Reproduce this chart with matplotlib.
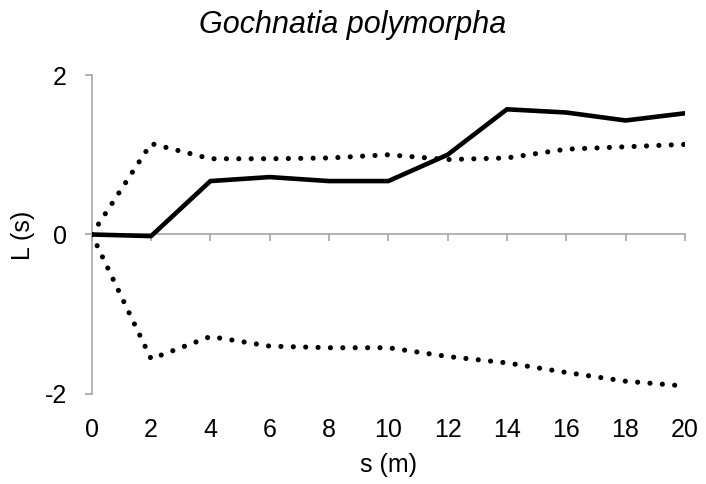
import numpy as np
import matplotlib
matplotlib.use("Agg")
import matplotlib.pyplot as plt

plt.rcParams['font.family'] = ['Liberation Sans', 'DejaVu Sans']
plt.rcParams['axes.unicode_minus'] = False

# distance classes s (m)
s = [0, 2, 4, 6, 8, 10, 12, 14, 16, 18, 20]
# observed L(s)
L_obs = [0.0, -0.02, 0.67, 0.72, 0.67, 0.67, 1.00, 1.57, 1.53, 1.43, 1.52]
# confidence envelope
L_upper = [0.0, 1.14, 0.95, 0.95, 0.96, 1.00, 0.94, 0.96, 1.07, 1.10, 1.13]
L_lower = [0.0, -1.56, -1.28, -1.40, -1.42, -1.42, -1.53, -1.61, -1.73, -1.84, -1.90]

W, H = 706, 484
fig = plt.figure(figsize=(W / 100, H / 100), dpi=100)
ax = fig.add_axes([0.130, 0.186, 0.840, 0.659])

axis_grey = '#a6a6a6'

ax.plot(s, L_upper, color='black', lw=3.7, linestyle=(0, (0.01, 2.4)),
        dash_capstyle='round', zorder=3)
ax.plot(s, L_lower, color='black', lw=3.7, linestyle=(0, (0.01, 2.4)),
        dash_capstyle='round', zorder=3)
ax.plot(s, L_obs, color='black', lw=3.3, solid_joinstyle='miter', zorder=4)

ax.set_xlim(0, 20)
ax.set_ylim(-2, 2)

ax.spines['top'].set_visible(False)
ax.spines['right'].set_visible(False)
ax.spines['bottom'].set_position(('data', 0))
for sp in ('left', 'bottom'):
    ax.spines[sp].set_color(axis_grey)
    ax.spines[sp].set_linewidth(1.2)

ax.set_xticks(range(0, 21, 2))
ax.set_yticks([-2, 0, 2])
ax.tick_params(axis='x', direction='out', length=5, width=1.2, color=axis_grey,
               labelbottom=False)
ax.tick_params(axis='y', direction='out', length=5, width=1.2, color=axis_grey,
               labelsize=18, pad=13)

# tick labels below the plot area
sec = ax.secondary_xaxis(0)
sec.set_xticks(range(0, 21, 2))
sec.spines['bottom'].set_visible(False)
sec.tick_params(length=0, labelsize=18, pad=17)

fig.text(388 / W, 1 - 465 / H, 's (m)', fontsize=18, ha='center', va='center')
fig.text(23 / W, 1 - 235 / H, 'L (s)', fontsize=18, ha='center', va='center',
         rotation=90)
fig.text(0.5, 1 - 25 / H, 'Gochnatia polymorpha', fontsize=22, style='italic',
         ha='center', va='center')

fig.savefig('out.png', dpi=100)
